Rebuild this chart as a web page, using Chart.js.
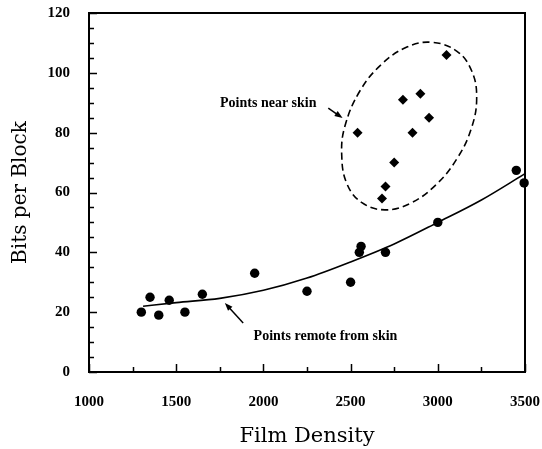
<!DOCTYPE html>
<html><head><meta charset="utf-8">
<script src="https://cdn.jsdelivr.net/npm/chart.js@4"></script>
<style>html,body{margin:0;padding:0;background:#fff}#wrap{width:542px;height:449px}</style>
</head><body><div id="wrap"><canvas id="c" width="542" height="449"></canvas></div>
<script>
// Points remote from skin (circles)
const remoteX = [1300, 1350, 1400, 1460, 1550, 1650, 1950, 2250, 2500, 2550, 2560, 2700, 3000, 3450, 3495];
const remoteY = [20, 25, 19, 24, 20, 26, 33, 27, 30, 40, 42, 40, 50, 67.4, 63.2];
// Points near skin (diamonds)
const nearX = [2540, 2680, 2700, 2750, 2800, 2855, 2900, 2950, 3050];
const nearY = [80, 58, 62, 70, 91, 80, 93, 85, 106];
// Fitted curve
const fitX = [1310, 1500, 1750, 2000, 2250, 2500, 2750, 3000, 3250, 3500];
const fitY = [22, 23.2, 24.6, 27.3, 31.4, 36.8, 42.8, 50, 57.5, 66.3];
// Dashed loop round the near-skin points (closed: last = first)
const loopX = [3223, 3194, 3113, 2990, 2840, 2697, 2565, 2479, 2449, 2468, 2554, 2680, 2823, 2966, 3110, 3194, 3223];
const loopY = [91.8, 81.7, 71.6, 62.6, 56.3, 54.2, 56.6, 62.9, 72.6, 82.3, 94.0, 103.0, 108.6, 110.2, 107.2, 100.7, 91.8];
// Tick labels
const xTickLabels = [1000, 1500, 2000, 2500, 3000, 3500];
const yTickLabels = [0, 20, 40, 60, 80, 100, 120];
// Annotations (data units)
const noteText = ['Points near skin', 'Points remote from skin'];
const noteX = [2028, 2356];
const noteY = [89.7, 11.9];
const arrowTailX = [2372, 1884];
const arrowTailY = [88.2, 16.4];
const arrowHeadX = [2454, 1779];
const arrowHeadY = [84.9, 23.1];

const pts = (xs, ys) => xs.map((x, i) => ({x, y: ys[i]}));
// wrap the closed loop with one neighbour on each side so the spline is smooth at the joint
const loopPts = pts(loopX, loopY);
const loopWrapped = [loopPts[loopPts.length - 2], ...loopPts, loopPts[1]];
const loopLast = loopWrapped.length - 1;

const framePlugin = {
  id: 'frameTicks',
  beforeDatasetsDraw(chart) {
    const {ctx, chartArea: a, scales: {x, y}} = chart;
    ctx.save();
    ctx.strokeStyle = '#000';
    ctx.lineWidth = 2;
    ctx.strokeRect(a.left, a.top, a.right - a.left, a.bottom - a.top);
    ctx.lineWidth = 1.5;
    ctx.beginPath();
    x.ticks.forEach(t => {
      const px = Math.round(x.getPixelForValue(t.value)) + 0.5;
      const len = xTickLabels.includes(t.value) ? 8 : 5;
      ctx.moveTo(px, a.bottom);
      ctx.lineTo(px, a.bottom - len);
    });
    y.ticks.forEach(t => {
      const py = Math.round(y.getPixelForValue(t.value)) + 0.5;
      const len = yTickLabels.includes(t.value) ? 8 : 5;
      ctx.moveTo(a.left, py);
      ctx.lineTo(a.left + len, py);
    });
    ctx.stroke();
    ctx.restore();
  },
  afterDatasetsDraw(chart) {
    const {ctx, scales: {x, y}} = chart;
    ctx.save();
    ctx.fillStyle = '#000';
    ctx.strokeStyle = '#000';
    ctx.font = 'bold 14px "Liberation Serif", serif';
    ctx.textAlign = 'center';
    ctx.textBaseline = 'middle';
    noteText.forEach((t, i) => {
      ctx.fillText(t, x.getPixelForValue(noteX[i]), y.getPixelForValue(noteY[i]));
    });
    arrowTailX.forEach((_, i) => {
      const x0 = x.getPixelForValue(arrowTailX[i]), y0 = y.getPixelForValue(arrowTailY[i]);
      const x1 = x.getPixelForValue(arrowHeadX[i]), y1 = y.getPixelForValue(arrowHeadY[i]);
      const ang = Math.atan2(y1 - y0, x1 - x0);
      const hl = 8, hw = 3;
      ctx.lineWidth = 1.5;
      ctx.beginPath();
      ctx.moveTo(x0, y0);
      ctx.lineTo(x1 - Math.cos(ang) * hl * 0.6, y1 - Math.sin(ang) * hl * 0.6);
      ctx.stroke();
      ctx.beginPath();
      ctx.moveTo(x1, y1);
      ctx.lineTo(x1 - Math.cos(ang) * hl - Math.sin(ang) * hw, y1 - Math.sin(ang) * hl + Math.cos(ang) * hw);
      ctx.lineTo(x1 - Math.cos(ang) * hl + Math.sin(ang) * hw, y1 - Math.sin(ang) * hl - Math.cos(ang) * hw);
      ctx.closePath();
      ctx.fill();
    });
    ctx.restore();
  }
};

Chart.defaults.color = '#000';
Chart.defaults.font.family = '"Liberation Serif", serif';

new Chart(document.getElementById('c'), {
  type: 'scatter',
  data: {
    datasets: [
      {label: 'fit', type: 'line', data: pts(fitX, fitY), borderColor: '#000', borderWidth: 1.6,
       pointRadius: 0, cubicInterpolationMode: 'monotone', fill: false},
      {label: 'loop', type: 'line', data: loopWrapped, borderColor: '#000', borderWidth: 1.6,
       borderDash: [7, 4], pointRadius: 0, tension: 0.4, fill: false,
       segment: {borderColor: c => (c.p0DataIndex === 0 || c.p1DataIndex === loopLast) ? 'rgba(0,0,0,0)' : '#000'}},
      {label: 'remote', data: pts(remoteX, remoteY), pointStyle: 'circle', pointRadius: 4.7,
       backgroundColor: '#000', borderColor: '#000', borderWidth: 0, clip: false},
      {label: 'near', data: pts(nearX, nearY), pointStyle: 'rectRot', pointRadius: 5,
       backgroundColor: '#000', borderColor: '#000', borderWidth: 0}
    ]
  },
  options: {
    responsive: false, animation: false, devicePixelRatio: 1,
    layout: {padding: {left: 0, right: 17, top: 13, bottom: 0}},
    plugins: {legend: {display: false}, tooltip: {enabled: false}},
    scales: {
      x: {
        type: 'linear', min: 1000, max: 3500,
        ticks: {stepSize: 250, autoSkip: false, maxRotation: 0, padding: 13,
                font: {size: 15, weight: 'bold'},
                callback: v => xTickLabels.includes(v) ? String(v) : ''},
        grid: {display: false}, border: {display: false},
        title: {display: true, text: 'Film Density', padding: {top: 0, bottom: 0},
                font: {family: '"DejaVu Serif", serif', size: 21}},
        afterFit(s) { s.height = 77; s.paddingLeft = 0; s.paddingRight = 0; }
      },
      y: {
        type: 'linear', min: 0, max: 120,
        ticks: {stepSize: 5, autoSkip: false, padding: 11,
                font: {size: 15, weight: 'bold'},
                callback: v => yTickLabels.includes(v) ? String(v) : ''},
        grid: {display: false}, border: {display: false},
        title: {display: true, text: 'Bits per Block', padding: {top: 9, bottom: 0},
                font: {family: '"DejaVu Serif", serif', size: 20}},
        afterFit(s) { s.width = 89; s.paddingTop = 0; s.paddingBottom = 0; }
      }
    }
  },
  plugins: [framePlugin]
});
</script>
</body></html>
